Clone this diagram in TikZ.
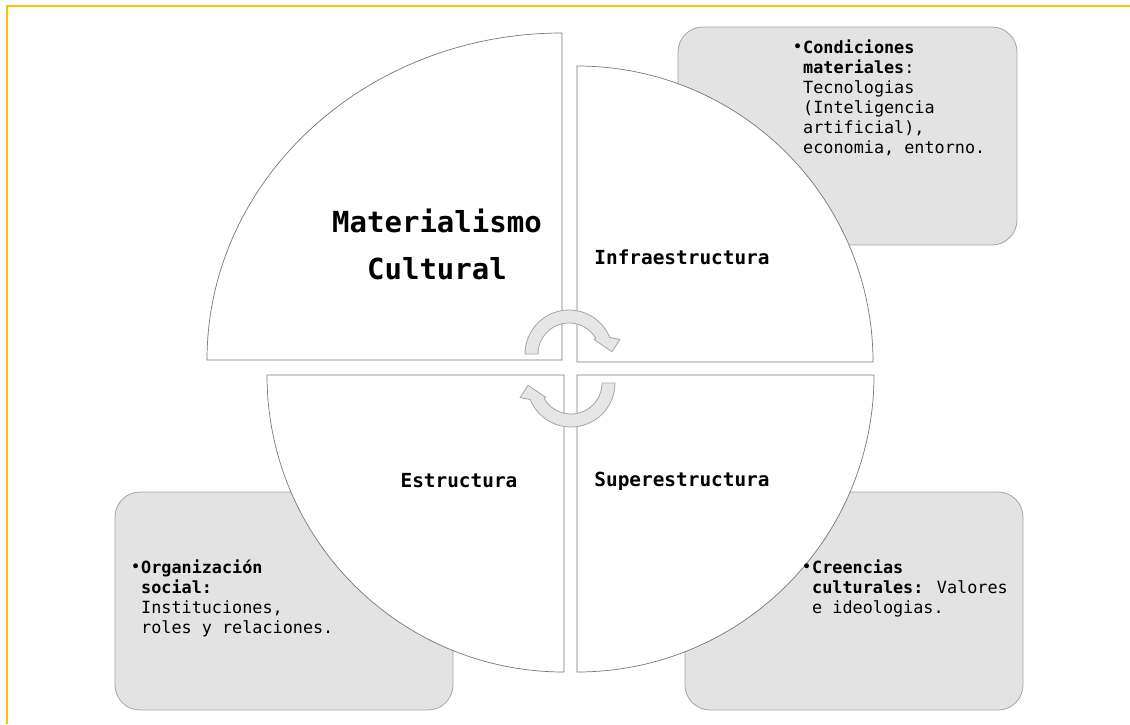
\documentclass[tikz,border=0pt]{standalone}
\usepackage{fontspec}
\setmainfont{DejaVu Sans Mono}
\usepackage{xcolor}
\definecolor{frame_yellow}{RGB}{255,192,0}
\definecolor{box_gray}{RGB}{227,227,227}
\definecolor{edge_gray}{RGB}{165,165,165}
\definecolor{arc_gray}{RGB}{120,120,120}
\definecolor{arrow_gray}{RGB}{230,230,230}
\usepackage{tikz}

\tikzset{
  infobox/.style={fill=box_gray, draw=edge_gray, line width=0.8pt, rounded corners=25pt},
  quarter/.style={fill=white, draw=arc_gray, line width=0.7pt},
  cycarrow/.style={fill=arrow_gray, draw=edge_gray, line width=0.8pt, line join=round},
  label/.style={font=\fontsize{19.4}{23}\selectfont\bfseries, inner sep=0pt},
  itemtext/.style={font=\fontsize{16.8}{20}\selectfont, align=left, anchor=north west, inner sep=0pt},
  itemdot/.style={font=\fontsize{16.8}{20}\selectfont, anchor=north east, inner sep=0pt}
}

\begin{document}
\begin{tikzpicture}[x=1pt, y=-1pt]
\useasboundingbox (0,0) rectangle (1130,724);
\draw [line width=2.5pt, draw=frame_yellow] (7,724) -- (7,6) -- (1130,6);

% side boxes
\draw [infobox] (678,27) rectangle (1017,245);
\draw [infobox] (115,492) rectangle (453,710);
\draw [infobox] (685,492) rectangle (1023,710);

% the four quarters
\draw [quarter] (562,360) -- (207,360) arc (180:270:355 and 327) -- cycle;
\draw [quarter] (577,362) -- (577,66) arc (270:360:296) -- cycle;
\draw [quarter] (564,375) -- (267,375) arc (180:90:297) -- cycle;
\draw [quarter] (577,375) -- (874,375) arc (0:90:297) -- cycle;

% cycle arrows
\draw [cycarrow, shift={(569,354)}] (180:44) arc (180:338:44) -- (344:53) -- (357:43) -- (330:29) -- (330:31) arc (330:180:31) -- cycle;
\draw [cycarrow, shift={(571,383)}] (0:44) arc (0:158:44) -- (164:53) -- (177:43) -- (150:29) -- (150:31) arc (150:0:31) -- cycle;

\node [label, font=\fontsize{29}{47}\selectfont\bfseries, align=center] (materialismo) at (437,244) {Materialismo\\Cultural};
\node [label] (infra) at (682,257) {Infraestructura};
\node [label] (estructura) at (459,481) {Estructura};
\node [label] (supra) at (682,481) {Superestructura};

\node [itemtext] (condiciones) at (803,40) {\textbf{Condiciones}\\\textbf{materiales}:\\Tecnologias\\(Inteligencia\\artificial),\\economia, entorno.};
\node [itemdot] (dot_c) at (condiciones.north west) {\textbf{\vphantom{Cdl}}•};

\node [itemtext] (organizacion) at (141,560) {\textbf{Organización}\\\textbf{social:}\\Instituciones,\\roles y relaciones.};
\node [itemdot] (dot_o) at (organizacion.north west) {\textbf{\vphantom{Ogl}}•};

\node [itemtext] (creencias) at (812,560) {\textbf{Creencias}\\\textbf{culturales:} Valores\\e ideologias.};
\node [itemdot] (dot_r) at (creencias.north west) {\textbf{\vphantom{C}}•};

\end{tikzpicture}
\end{document}
